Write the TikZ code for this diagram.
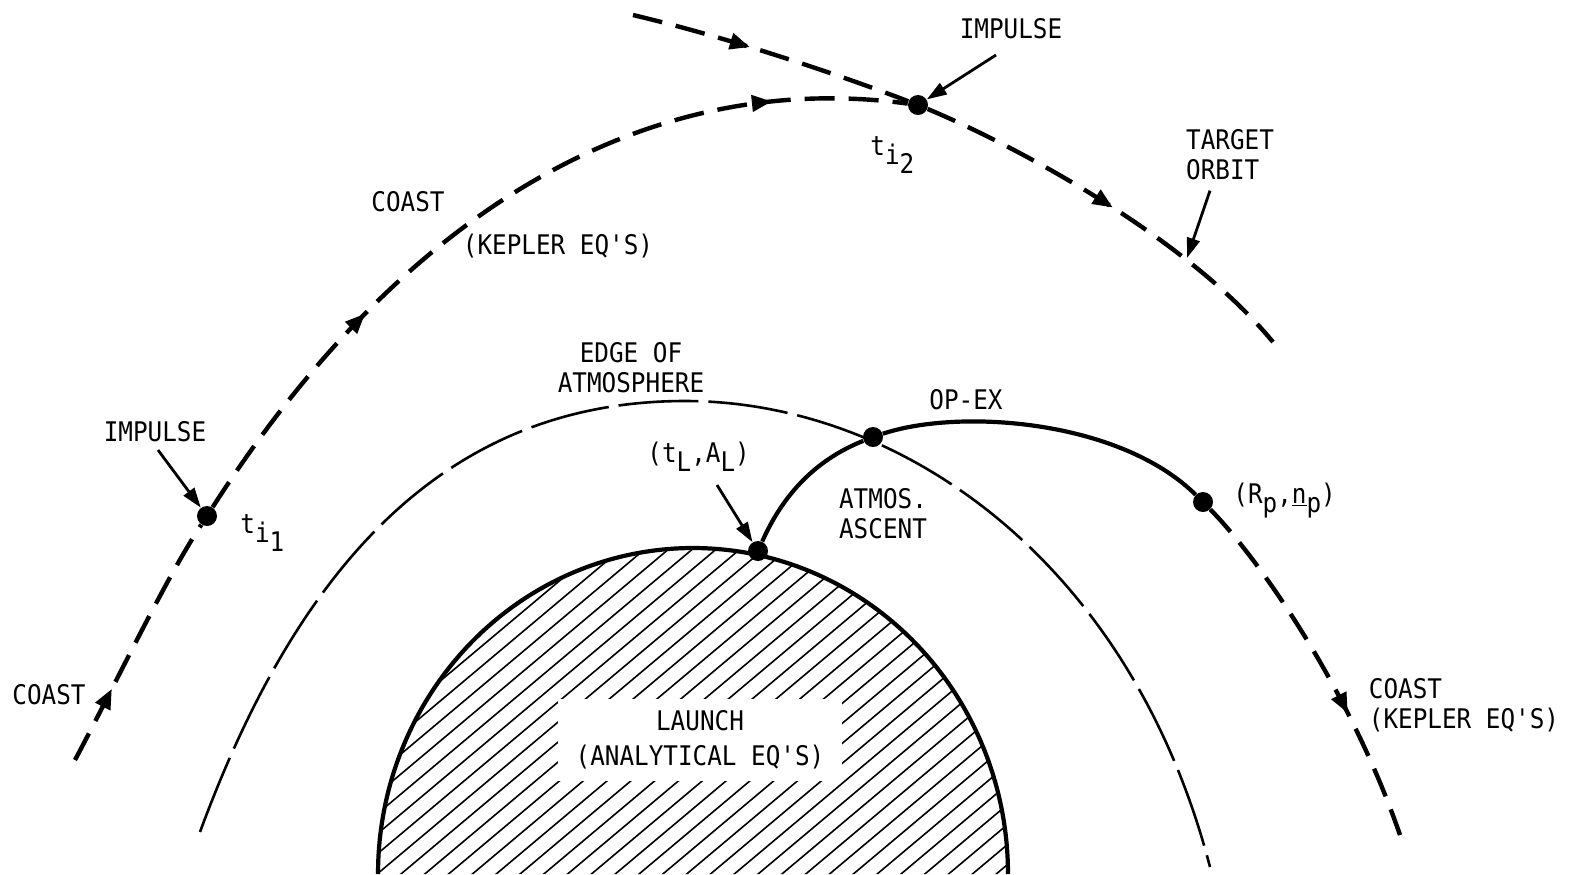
\documentclass[tikz,border=0pt]{standalone}
\usepackage{fontspec}
\setmonofont[FakeStretch=0.9]{DejaVu Sans Mono}
\usetikzlibrary{arrows.meta,calc,decorations.markings}
\tikzset{
  lbl/.style={font=\ttfamily\fontsize{13.5}{15}\selectfont,inner sep=1pt},
  dot/.style={circle,fill=black,inner sep=0pt,minimum size=10pt},
  coast/.style={line width=2.2pt,dash pattern=on 15pt off 7pt},
  atmo/.style={line width=1.3pt,dash pattern=on 40pt off 5pt},
  burn/.style={line width=2.1pt},
  hatch/.style={line width=0.8pt},
  arr/.style={-{Triangle[length=10pt,width=6.5pt]},line width=1.4pt},
  flow/.style={postaction={decorate,decoration={markings,
    mark=at position #1 with {\arrow{Triangle[length=10pt,width=8pt]}}}}}
}
\newcommand{\lowsub}[1]{\raisebox{-4.5pt}{#1}}

\begin{document}
\begin{tikzpicture}[x=0.5pt,y=-0.5pt]
  \useasboundingbox (0,0) rectangle (1569,874);
  % launch region
  \begin{scope}
    \clip plot[domain=180:360,samples=90,smooth] ({693+315*cos(\x)},{874+326*sin(\x)}) -- cycle;
    \foreach \y in {700,720,...,1440}
      \draw[hatch] (370,\y) -- ++(700,-588);
  \end{scope}
  \draw[burn] plot[domain=180:360,samples=90,smooth] ({693+315*cos(\x)},{874+326*sin(\x)});
  \node[lbl,fill=white,align=center,inner xsep=9pt,inner ysep=6pt] (launch) at (700,740) {LAUNCH\\[2.5pt](ANALYTICAL EQ'S)};

  % edge of atmosphere
  \coordinate (atm0) at (200,832);
  \coordinate (atmtop) at (685,401);
  \coordinate (atm1) at (1210,867);
  \draw[atmo] (atm0) .. controls (300,560) and (450,401) .. (atmtop)
              .. controls (900,401) and (1130,560) .. (atm1);

  % points
  \node[dot] (ti1) at (207,516) {};
  \node[dot] (ti2) at (918,105) {};
  \node[dot] (edge) at (873,437) {};
  \node[dot] (lift) at (758,551) {};
  \node[dot] (rp) at (1203,502) {};
  \coordinate (c0) at (75,760);
  \coordinate (tgt0) at (633,15);
  \coordinate (tgt1) at (1273,342);
  \coordinate (c1) at (1400,835);

  % trajectories
  \draw[coast,flow=0.3] (c0) .. controls (120,675) and (165,580) .. (ti1);
  \draw[coast,flow=0.29,flow=0.84] (ti1) .. controls (412,196) and (660,70) .. (ti2);
  \draw[coast,flow=0.42] (tgt0) .. controls (730,38) and (840,75) .. (ti2);
  \draw[coast,flow=0.5] (ti2) .. controls (1000,139) and (1180,230) .. (tgt1);
  \draw[burn] (lift) .. controls (785,490) and (820,458) .. (edge);
  \draw[burn] (edge) .. controls (960,408) and (1120,420) .. (rp);
  \draw[coast,flow=0.65] (rp) .. controls (1260,560) and (1350,690) .. (c1);

  % labels
  \node[lbl] (imp2) at (1011,29) {IMPULSE};
  \coordinate (imp2tail) at (996,55);
  \draw[arr] (imp2tail) -- (ti2);
  \node[lbl,anchor=base west] (ti2lbl) at (868,155) {t\lowsub{i\lowsub{2}}};
  \node[lbl,align=left] (target) at (1230,155) {TARGET\\ORBIT};
  \coordinate (orbhead) at (1187,258);
  \draw[arr] ($(target.south)+(-20,8)$) -- (orbhead);
  \node[lbl] (coast1) at (408,202) {COAST};
  \node[lbl] (kepler1) at (558,246) {(KEPLER EQ'S)};
  \node[lbl,align=center] (atmlbl) at (631,368) {EDGE OF\\ATMOSPHERE};
  \node[lbl] (opex) at (966,400) {OP-EX};
  \node[lbl] (imp1) at (155,432) {IMPULSE};
  \coordinate (imp1tail) at (158,450);
  \draw[arr] (imp1tail) -- (ti1);
  \node[lbl,anchor=base west] (ti1lbl) at (238,533) {t\lowsub{i\lowsub{1}}};
  \node[lbl,anchor=base west] (tlal) at (645,462) {(t\lowsub{L},A\lowsub{L})};
  \coordinate (tlaltail) at (717,485);
  \draw[arr] (tlaltail) -- (lift);
  \node[lbl,align=left] (ascent) at (883,514) {ATMOS.\\ASCENT};
  \node[lbl,anchor=base west] (rplbl) at (1231,503) {(R\lowsub{p},\underline{n}\lowsub{p})};
  \node[lbl] (coast0) at (49,695) {COAST};
  \node[lbl,align=left] (coast2) at (1464,705) {COAST\\(KEPLER EQ'S)};
\end{tikzpicture}
\end{document}
